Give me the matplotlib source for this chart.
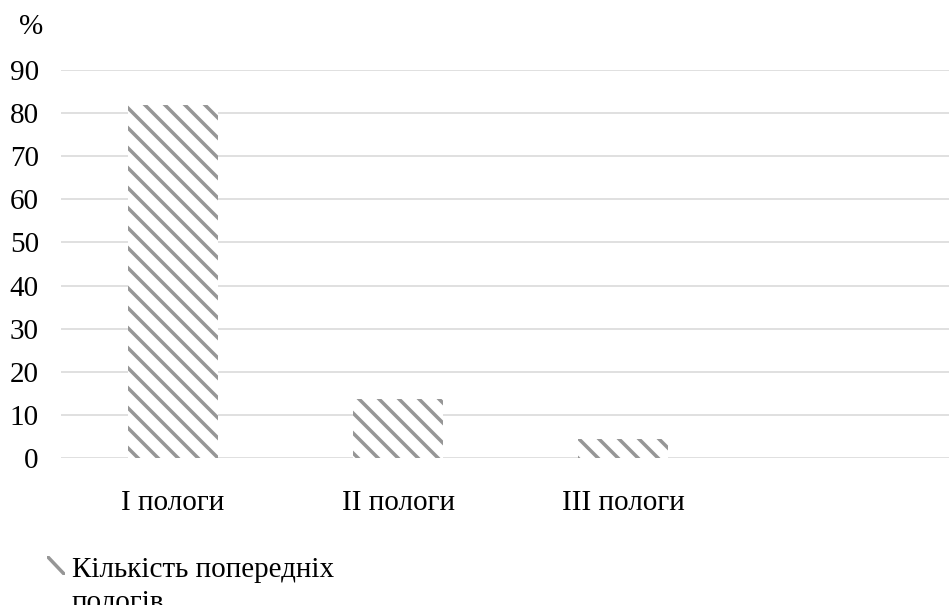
import matplotlib
matplotlib.use("Agg")
import matplotlib.pyplot as plt
from matplotlib.patches import Rectangle
from matplotlib.lines import Line2D

# Share of births by parity (%)
categories = ["I пологи", "II пологи", "III пологи"]
values = [81.8, 13.7, 4.5]
series_label = "Кількість попередніх\nпологів"
y_ticks = [0, 10, 20, 30, 40, 50, 60, 70, 80, 90]
y_unit = "%"

plt.rcParams["font.family"] = ["Liberation Serif", "DejaVu Serif"]
plt.rcParams["hatch.linewidth"] = 2.1

W, H, DPI = 949, 605, 120
FS = 17.5
fig = plt.figure(figsize=(W / DPI, H / DPI), dpi=DPI)
fig.patch.set_facecolor("white")

# plot area: one slot per category plus an empty fourth slot on the right
ax = fig.add_axes([60.5 / W, 147 / H, 900 / W, 388 / H])
hatch_color = "#969696"
ax.bar(range(len(categories)), values, width=0.4, color="white",
       edgecolor=hatch_color, linewidth=0, hatch="\\\\", zorder=2)

ax.set_xlim(-0.5, 3.5)
ax.set_ylim(0, 90)
ax.set_yticks(y_ticks)
ax.set_xticks(range(len(categories)))
ax.set_xticklabels(categories)
ax.yaxis.grid(True, color="#d6d6d6", linewidth=0.9, zorder=0)
ax.set_axisbelow(True)
for s in ax.spines.values():
    s.set_visible(False)
ax.tick_params(axis="both", length=0, labelsize=FS, colors="black")
ax.tick_params(axis="y", pad=13)
ax.tick_params(axis="x", pad=19)

fig.text(31 / W, 1 - 27 / H, y_unit, ha="center", va="center", fontsize=FS)

# legend entry: a small swatch with a single diagonal stripe
sx0, sy0, sw, sh = 47 / W, 1 - 575 / H, 18 / W, 19 / H
box = Rectangle((sx0, sy0), sw, sh, transform=fig.transFigure,
                facecolor="white", edgecolor="none")
fig.add_artist(box)
stripe = Line2D([sx0 - 0.2 * sw, sx0 + 1.2 * sw], [sy0 + 1.2 * sh, sy0 - 0.2 * sh],
                transform=fig.transFigure, color=hatch_color, linewidth=2.1,
                solid_capstyle="butt")
stripe.set_clip_path(box)
fig.add_artist(stripe)
fig.text(72 / W, 1 - 610 / H, series_label, ha="left", va="baseline",
         fontsize=FS, linespacing=1.37)

fig.savefig("out.png", dpi=DPI, facecolor="white")
